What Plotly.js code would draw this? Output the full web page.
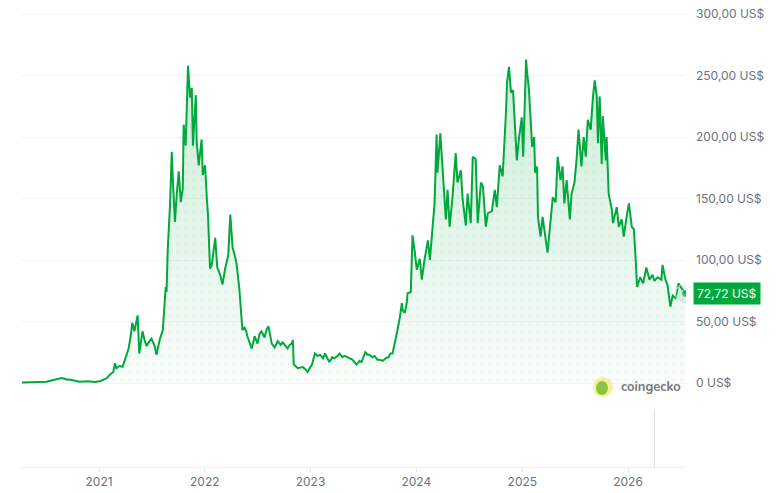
<!DOCTYPE html>
<html>
<head>
<meta charset="utf-8">
<script src="https://cdn.plot.ly/plotly-3.0.1.min.js"></script>
<style>html,body{margin:0;padding:0;background:#fff;}#chart{width:780px;height:493px;}</style>
</head>
<body>
<div id="chart"></div>
<script>
const priceDates = [
'2020-04-10','2020-05-06','2020-06-10','2020-07-04','2020-07-21','2020-08-12','2020-08-25','2020-09-09','2020-09-29','2020-10-26','2020-11-23','2020-12-17',
'2021-01-04','2021-01-18','2021-01-28','2021-02-08','2021-02-19','2021-02-25','2021-03-02','2021-03-13','2021-03-23','2021-03-30','2021-04-06','2021-04-13','2021-04-20','2021-04-23','2021-04-26','2021-05-03','2021-05-10','2021-05-14','2021-05-20','2021-05-27','2021-05-31','2021-06-07','2021-06-14','2021-06-24','2021-07-01','2021-07-12','2021-07-18','2021-07-22','2021-07-29','2021-08-09','2021-08-16','2021-08-19','2021-08-22','2021-08-26','2021-09-03','2021-09-09','2021-09-13','2021-09-20','2021-09-26','2021-10-03','2021-10-10','2021-10-17','2021-10-20','2021-10-27','2021-11-04','2021-11-11','2021-11-17','2021-11-21','2021-12-01','2021-12-04','2021-12-11','2021-12-21','2021-12-25',
'2022-01-02','2022-01-08','2022-01-12','2022-01-19','2022-01-25','2022-02-06','2022-02-13','2022-02-23','2022-03-03','2022-03-13','2022-03-23','2022-03-30','2022-04-07','2022-04-14','2022-04-20','2022-04-30','2022-05-07','2022-05-11','2022-05-18','2022-05-24','2022-05-28','2022-06-05','2022-06-12','2022-06-22','2022-07-02','2022-07-09','2022-07-16','2022-07-26','2022-08-03','2022-08-09','2022-08-20','2022-08-30','2022-09-10','2022-09-20','2022-09-27','2022-10-07','2022-10-14','2022-10-21','2022-10-28','2022-11-01','2022-11-04','2022-11-18','2022-12-05','2022-12-15','2022-12-22','2022-12-29',
'2023-01-06','2023-01-16','2023-01-26','2023-02-03','2023-02-13','2023-02-20','2023-03-01','2023-03-07','2023-03-17','2023-03-24','2023-04-04','2023-04-11','2023-04-21','2023-04-28','2023-05-08','2023-05-15','2023-05-25','2023-06-09','2023-06-19','2023-06-26','2023-07-09','2023-07-16','2023-07-23','2023-08-03','2023-08-10','2023-08-20','2023-08-27','2023-09-07','2023-09-17','2023-09-27','2023-10-04','2023-10-11','2023-10-18','2023-10-28','2023-11-05','2023-11-12','2023-11-15','2023-11-22','2023-11-29','2023-12-02','2023-12-13','2023-12-19','2023-12-26',
'2024-01-03','2024-01-13','2024-01-20','2024-01-30','2024-02-10','2024-02-17','2024-02-27','2024-03-04','2024-03-11','2024-03-14','2024-03-24','2024-04-01','2024-04-12','2024-04-18','2024-04-25','2024-05-05','2024-05-16','2024-05-22','2024-06-03','2024-06-09','2024-06-20','2024-06-26','2024-07-07','2024-07-14','2024-07-24','2024-07-31','2024-08-11','2024-08-18','2024-08-28','2024-09-04','2024-09-18','2024-09-28','2024-10-05','2024-10-15','2024-10-25','2024-11-06','2024-11-09','2024-11-16','2024-11-23','2024-11-30','2024-12-06','2024-12-13','2024-12-20','2024-12-30',
'2025-01-04','2025-01-14','2025-01-17','2025-01-24','2025-02-04','2025-02-11','2025-02-14','2025-02-21','2025-02-24','2025-03-05','2025-03-12','2025-03-22','2025-03-29','2025-04-09','2025-04-16','2025-04-26','2025-05-03','2025-05-13','2025-05-20','2025-05-26','2025-06-03','2025-06-14','2025-06-20','2025-06-30','2025-07-07','2025-07-14','2025-07-24','2025-08-01','2025-08-08','2025-08-15','2025-08-25','2025-09-02','2025-09-08','2025-09-15','2025-09-19','2025-09-25','2025-10-02','2025-10-06','2025-10-16','2025-10-19','2025-10-26','2025-11-06','2025-11-10','2025-11-23','2025-11-30','2025-12-10','2025-12-17','2025-12-27',
'2026-01-04','2026-01-14','2026-01-21','2026-01-28','2026-02-01','2026-02-12','2026-02-22','2026-02-28','2026-03-05','2026-03-16','2026-03-26','2026-04-02','2026-04-13','2026-04-26','2026-04-30','2026-05-10','2026-05-17','2026-05-27','2026-06-04','2026-06-14','2026-06-24','2026-07-05','2026-07-15','2026-07-18'
];
const priceValues = [
0.5,0.5,0.8,1,2,3.5,4,3,2.5,1,1.5,0.8,
1.5,3,4,7,9,16,12,14,13,18,24,28,38,46,49,42,50,55,24,36,42,35,30,34,36,30,23,27,35,43,73,78,74,108,145,188,163,131,153,172,147,158,210,193,258,232,240,193,234,196,177,198,169,
177,150,137,93,96,118,94,88,80,94,104,137,110,104,98,77,57,43,45,42,38,33,28,38,32,40,42,37,44,46,32,29,34,31,33,30,28,31,32,35,15,12,13,11,9,12,
15,24,22,23,20,24,20,17,21,20,22,24,21,22,21,20,19,15,18,17,25,23,23,21,22,19,19,18,20,21,24,24,31,43,53,65,59,57,65,73,74,120,108,
92,101,84,101,116,100,133,146,202,171,203,173,133,157,127,151,187,163,173,149,128,154,130,184,182,130,163,160,127,138,140,157,143,177,168,222,244,257,236,238,216,181,198,216,
184,263,254,238,192,200,171,176,135,119,135,119,106,133,151,147,184,165,176,146,165,133,154,163,181,206,176,200,184,214,206,233,246,233,195,233,178,217,181,200,154,141,130,143,127,133,119,135,
146,127,125,98,78,86,81,88,94,84,88,83,86,84,96,84,80,62,71,69,81,77,73,72.72
];
const volumeDates = ['2026-04-02'];
const volumeValues = [1];
const yTickVals = [0, 50, 100, 150, 200, 250, 300];
const yTickText = ['0 US$', '50,00 US$', '100,00 US$', '150,00 US$', '200,00 US$', '250,00 US$', '300,00 US$'];
const xTickVals = ['2021-01-01', '2022-01-01', '2023-01-01', '2024-01-01', '2025-01-01', '2026-01-01'];
const xTickText = ['2021', '2022', '2023', '2024', '2025', '2026'];
const lastPriceText = '72,72 US$';

const green = '#00a83e';
const lastDate = priceDates[priceDates.length - 1];
const lastValue = priceValues[priceValues.length - 1];

const traces = [
  {
    type: 'bar', x: volumeDates, y: volumeValues, yaxis: 'y2',
    marker: {color: '#dde1e8'}, width: 2 * 86400000, hoverinfo: 'skip'
  },
  {
    type: 'scatter', mode: 'lines', x: priceDates, y: priceValues,
    line: {width: 0, color: green}, fill: 'tozeroy',
    fillgradient: {type: 'vertical', start: 0, stop: 260,
      colorscale: [[0, 'rgba(0,168,62,0.02)'], [1, 'rgba(0,168,62,0.2)']]},
    hoverinfo: 'skip'
  },
  {
    type: 'scatter', mode: 'lines', x: priceDates, y: priceValues,
    line: {width: 2, color: green}, fill: 'tozeroy', fillcolor: 'rgba(0,0,0,0)',
    fillpattern: {shape: '.', size: 8, solidity: 0.2, fgcolor: 'rgba(0,140,60,0.04)', bgcolor: 'rgba(0,0,0,0)'}
  },
  {
    type: 'scatter', mode: 'markers', x: [lastDate, lastDate], y: [lastValue, lastValue],
    marker: {size: [20, 8], color: ['rgba(0,168,62,0.15)', green]}, hoverinfo: 'skip'
  }
];

const layout = {
  width: 780, height: 493,
  margin: {l: 22, r: 94, t: 0, b: 26},
  paper_bgcolor: '#fff', plot_bgcolor: '#fff',
  showlegend: false,
  font: {family: 'Inter, "Noto Sans", sans-serif', size: 12, color: '#6b7280'},
  xaxis: {
    type: 'date', range: ['2020-04-10', '2026-07-20'],
    tickmode: 'array', tickvals: xTickVals, ticktext: xTickText,
    showgrid: false, zeroline: false, showline: true, linecolor: '#eceef2', linewidth: 1,
    ticks: 'outside', ticklen: 4, tickcolor: '#e6e8ec',
    tickfont: {size: 12, color: '#6b7280'}
  },
  yaxis: {
    side: 'right', range: [-68.29, 311.38],
    tickmode: 'array', tickvals: yTickVals, ticktext: yTickText,
    showgrid: true, gridcolor: '#f2f3f5', gridwidth: 1, zeroline: false,
    showline: false, ticks: '', ticklabelstandoff: 9,
    tickfont: {size: 12, color: '#6b7280'}
  },
  yaxis2: {overlaying: 'y', range: [0, 467 / 58], visible: false},
  bargap: 0,
  annotations: [
    {
      xref: 'paper', x: 1, xanchor: 'left', xshift: 7,
      yref: 'y', y: lastValue, yanchor: 'middle',
      text: lastPriceText, showarrow: false,
      bgcolor: green, borderpad: 3,
      font: {color: '#ffffff', size: 12, family: 'Inter, "Noto Sans", sans-serif'}
    },
    {
      xref: 'paper', x: (651 - 22) / 664, xanchor: 'center',
      yref: 'y', y: -3.3, yanchor: 'middle',
      text: '<b>coingecko</b>', showarrow: false,
      font: {color: '#767880', size: 13, family: 'Nunito, "Open Sans", sans-serif'}
    }
  ],
  shapes: [
    {type: 'circle', xref: 'paper', yref: 'y', xsizemode: 'pixel', ysizemode: 'pixel',
      xanchor: (603 - 22) / 664, yanchor: -3.3, x0: -10, x1: 10, y0: -10, y1: 10,
      fillcolor: '#f6ee9e', line: {width: 0}},
    {type: 'circle', xref: 'paper', yref: 'y', xsizemode: 'pixel', ysizemode: 'pixel',
      xanchor: (603 - 22) / 664, yanchor: -3.3, x0: -7, x1: 5, y0: -8, y1: 6,
      fillcolor: '#8bc53f', line: {width: 0}}
  ]
};

Plotly.newPlot('chart', traces, layout, {displayModeBar: false, staticPlot: true});
</script>
</body>
</html>
